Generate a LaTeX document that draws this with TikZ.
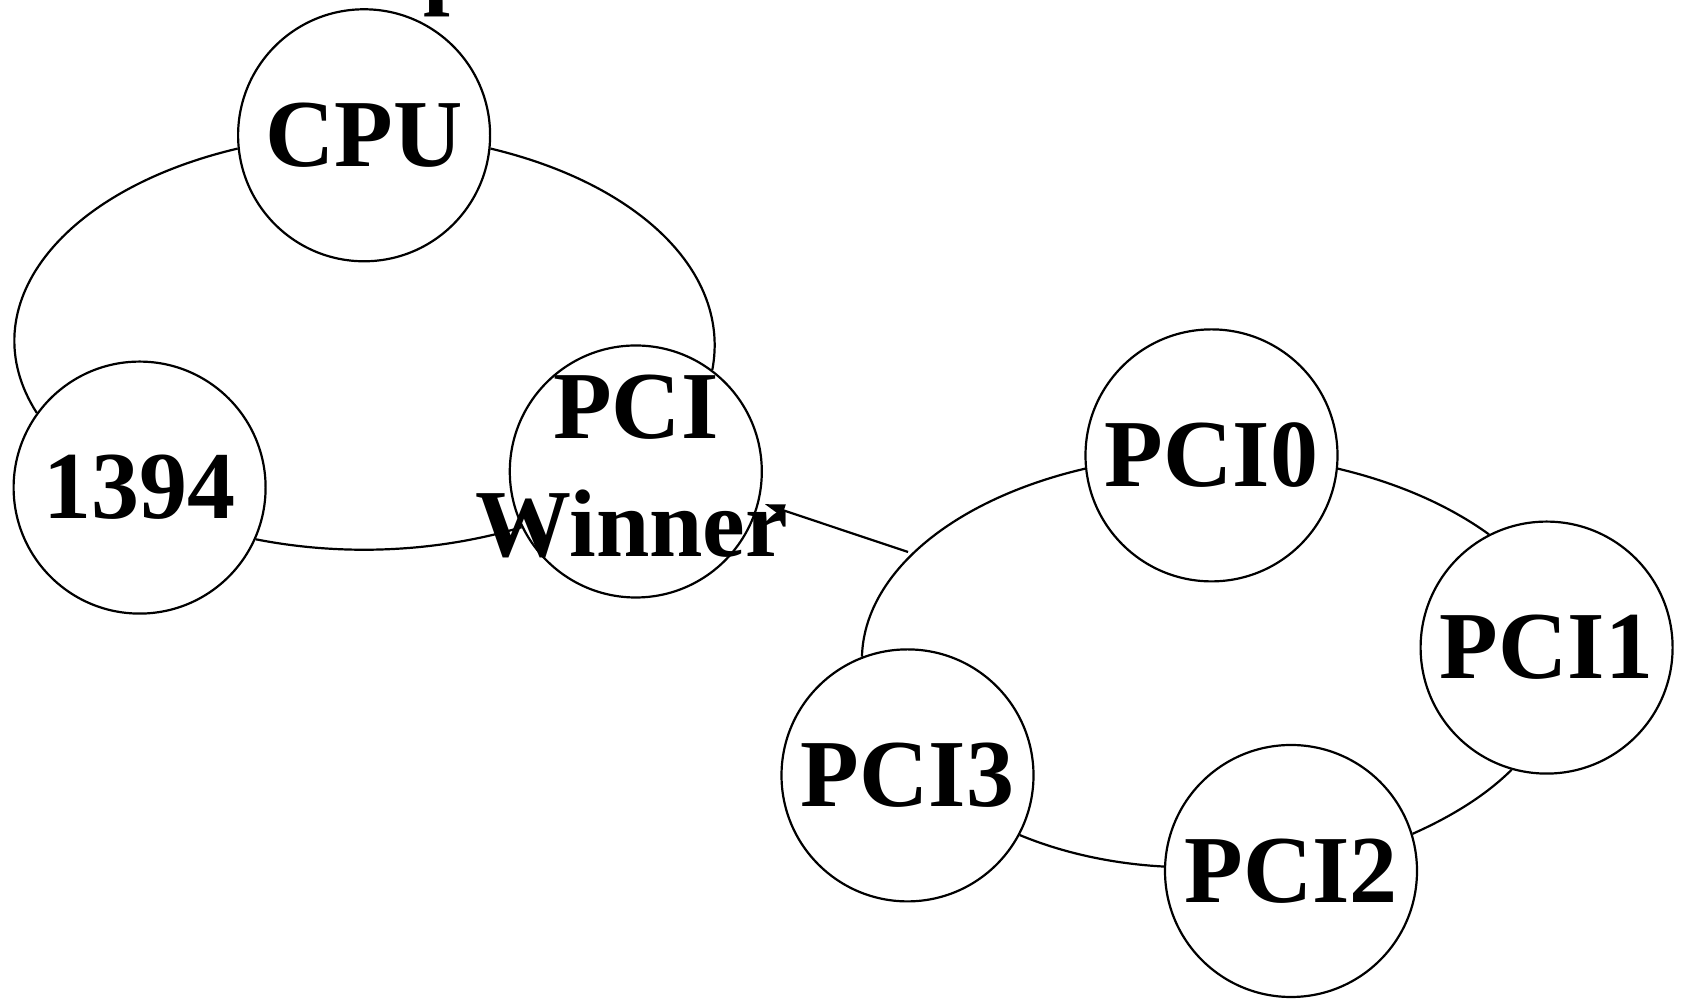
\documentclass[tikz,border=0pt]{standalone}
\usepackage{fontspec}
\setmainfont{Liberation Serif}
\usetikzlibrary{arrows.meta}
\begin{document}
\begin{tikzpicture}[x=1pt,y=1pt,
  lbl/.style={inner sep=0pt, font=\bfseries\fontsize{96}{118}\selectfont, align=center},
  unit/.style={circle, draw, line width=2.2pt, minimum size=252pt, inner sep=0pt, lbl},
  ring/.style={circle, draw, line width=2.2pt, minimum size=252pt, inner sep=0pt},
  link/.style={line width=2.2pt}]
\clip (0,0) rectangle (1684,1000);
\fill[white] (0,0) rectangle (1684,1000);

% cluster caption, running off the top edge
\node[lbl, anchor=base west] (cap) at (423,1003) {p};

% left ring
\node[unit] (cpu)  at (364.1,864.7) {CPU};
\node[unit] (fw)   at (139.6,512.4) {1394};
\node[ring] (win)  at (635.8,528.5) {};
\node[lbl, yshift=5pt]  (winlbl) at (win.center) {PCI\\\hspace*{-8.5pt}Winner};

% right ring
\node[unit] (p0) at (1211.5,544.6) {PCI0};
\node[unit] (p1) at (1546.6,352.4) {PCI1};
\node[unit] (p2) at (1291.0,129.0) {PCI2};
\node[unit] (p3) at (907.5,224.6)  {PCI3};

% left ring edges (elliptic arcs)
\draw[link] (cpu.186.6) .. controls (59.5,809.4) and (-30.8,692.6) .. (fw.144.9);
\draw[link] (cpu.-6.6) .. controls (639.7,815.9) and (730.8,727.1) .. (win.53.8);
\draw[link] (fw.-24.2) .. controls (342.5,443.6) and (436.3,447.4) .. (win.206);

% right ring edges (elliptic arcs)
\draw[link] (p0.186.2) .. controls (952.5,500.5) and (864.1,426.4) .. (p3.111.7);
\draw[link] (p0.-6.2) .. controls (1396.8,517.4) and (1448.5,494.9) .. (p1.117.6);
\draw[link] (p1.254.2) .. controls (1486.6,205.4) and (1452.9,184.1) .. (p2.17.6);
\draw[link] (p2.178.6) .. controls (1112.2,136.2) and (1062.8,147.1) .. (p3.-28.5);

% link from the right ring to the winner
\coordinate (tail) at (908,448);
\draw[link, -{Triangle[length=20pt,width=12pt]}, shorten >=6pt] (tail) -- (win.-14);
\end{tikzpicture}
\end{document}
